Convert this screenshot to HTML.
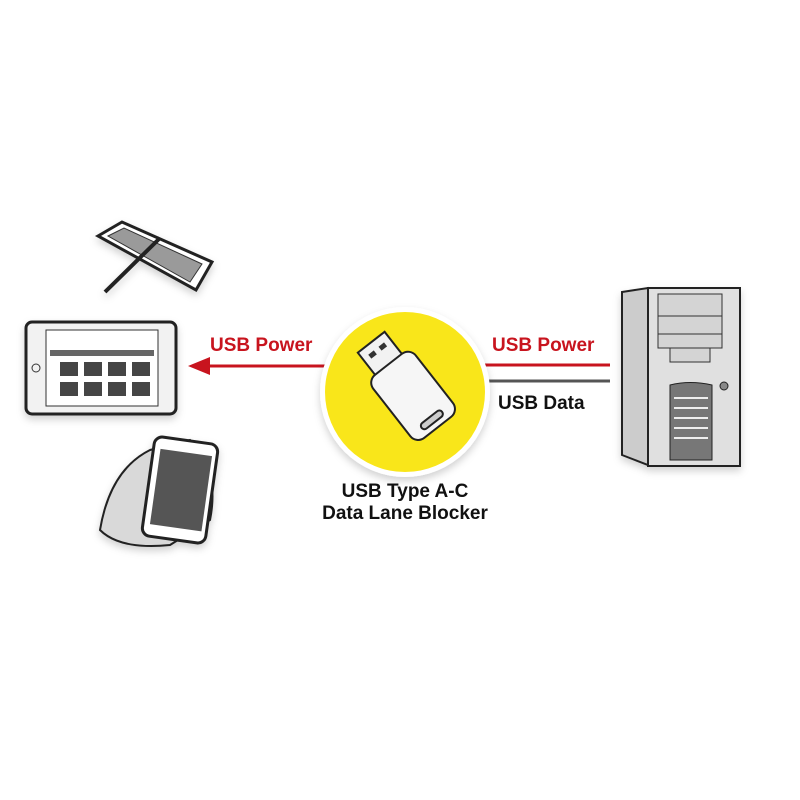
<!DOCTYPE html>
<html><head><style>
body{margin:0;background:#fff;width:800px;height:800px;overflow:hidden;font-family:"Liberation Sans",sans-serif}
.t{position:absolute;font-weight:bold;font-size:19px;white-space:nowrap}
</style></head><body>
<svg width="800" height="800" style="position:absolute;left:0;top:0">
<defs><filter id="s" x="-20%" y="-20%" width="140%" height="140%"><feDropShadow dx="0" dy="4" stdDeviation="4" flood-color="#000" flood-opacity="0.18"/></filter></defs>
<g filter="url(#s)">
<polygon points="98,236 122,222 212,262 196,290 " fill="#fff" stroke="#222" stroke-width="3"/>
<polygon points="108,236 124,228 202,264 190,282" fill="#9a9a9a" stroke="#333"/>
<line x1="105" y1="292" x2="160" y2="238" stroke="#222" stroke-width="4"/>
</g>
<g filter="url(#s)">
<rect x="26" y="322" width="150" height="92" rx="6" fill="#f2f2f2" stroke="#222" stroke-width="3"/>
<rect x="46" y="330" width="112" height="76" fill="#fff" stroke="#333"/>
<rect x="50" y="350" width="104" height="6" fill="#666"/>
<g fill="#444"><rect x="60" y="362" width="18" height="14"/><rect x="84" y="362" width="18" height="14"/><rect x="108" y="362" width="18" height="14"/><rect x="132" y="362" width="18" height="14"/><rect x="60" y="382" width="18" height="14"/><rect x="84" y="382" width="18" height="14"/><rect x="108" y="382" width="18" height="14"/><rect x="132" y="382" width="18" height="14"/></g>
<circle cx="36" cy="368" r="4" fill="none" stroke="#333"/>
</g>
<g filter="url(#s)">
<path d="M100,530 Q110,470 150,450 L190,440 Q220,470 210,520 L170,545 Q120,550 100,530Z" fill="#d9d9d9" stroke="#222" stroke-width="2"/>
<rect x="148" y="440" width="64" height="100" rx="8" fill="#fff" stroke="#222" stroke-width="3" transform="rotate(8 180 490)"/>
<rect x="155" y="452" width="52" height="76" fill="#555" transform="rotate(8 180 490)"/>
</g>
<g filter="url(#s)">
<polygon points="622,292 648,288 648,465 622,455" fill="#ccc" stroke="#222" stroke-width="2"/>
<rect x="648" y="288" width="92" height="178" fill="#e0e0e0" stroke="#222" stroke-width="2"/>
<rect x="658" y="294" width="64" height="22" fill="#d4d4d4" stroke="#333"/>
<rect x="658" y="316" width="64" height="18" fill="#d4d4d4" stroke="#333"/>
<rect x="658" y="334" width="64" height="14" fill="#d4d4d4" stroke="#333"/>
<rect x="670" y="348" width="40" height="14" fill="#d4d4d4" stroke="#333"/>
<circle cx="724" cy="386" r="4" fill="#888" stroke="#222"/>
<path d="M670,385 Q690,380 712,385 L712,460 L670,460Z" fill="#777" stroke="#222"/>
<g stroke="#eee" stroke-width="2"><line x1="674" y1="398" x2="708" y2="398"/><line x1="674" y1="408" x2="708" y2="408"/><line x1="674" y1="418" x2="708" y2="418"/><line x1="674" y1="428" x2="708" y2="428"/><line x1="674" y1="438" x2="708" y2="438"/></g>
</g>
<line x1="205" y1="366" x2="330" y2="366" stroke="#c8141e" stroke-width="3"/>
<polygon points="188,366 210,357 210,375" fill="#c8141e"/>
<line x1="480" y1="365" x2="610" y2="365" stroke="#c8141e" stroke-width="3"/>
<line x1="480" y1="381" x2="610" y2="381" stroke="#555" stroke-width="3"/>
<circle cx="405" cy="392" r="85" fill="#fff" filter="url(#s)"/>
<circle cx="405" cy="392" r="80" fill="#f9e61a"/>
<g transform="rotate(-38 405 392)">
<rect x="392" y="332" width="34" height="30" fill="#f2f2f2" stroke="#222" stroke-width="2"/>
<rect x="399" y="340" width="7" height="5" fill="#333"/><rect x="412" y="340" width="7" height="5" fill="#333"/>
<rect x="382" y="360" width="54" height="80" rx="10" fill="#f6f6f6" stroke="#222" stroke-width="2"/>
<rect x="396" y="427" width="26" height="7" rx="3.5" fill="#ccc" stroke="#222" stroke-width="2"/>
</g>
</svg>
<div class="t" style="left:210px;top:335px;color:#c8141e">USB Power</div>
<div class="t" style="left:492px;top:335px;color:#c8141e">USB Power</div>
<div class="t" style="left:498px;top:393px;color:#111">USB Data</div>
<div class="t" style="left:305px;top:481px;width:200px;text-align:center;color:#111;line-height:22px">USB Type A-C<br>Data Lane Blocker</div>
</body></html>
